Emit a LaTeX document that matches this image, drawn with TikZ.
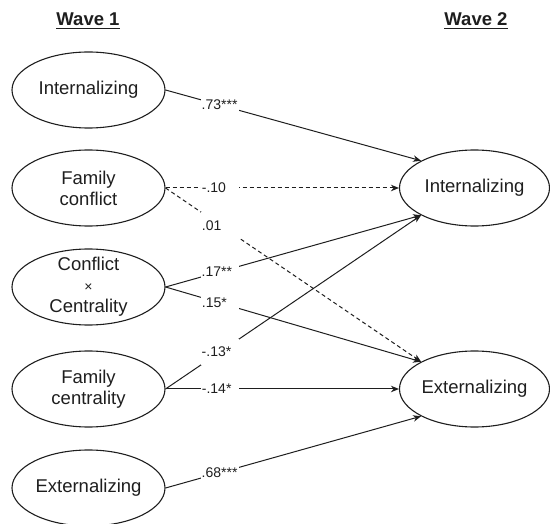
\documentclass[tikz,border=0pt]{standalone}
\usepackage{fontspec}
\setmainfont{Liberation Sans}
\usetikzlibrary{arrows.meta,shapes.geometric}
\definecolor{ink}{HTML}{1E1E1E}
\begin{document}
\begin{tikzpicture}[x=1pt,y=-1pt,
  var/.style={draw=ink,line width=1.1pt,ellipse,minimum width=153pt,minimum height=76pt,inner sep=0pt},
  rvar/.style={var,minimum width=150pt},
  vtext/.style={align=center,text=ink,font=\fontsize{18.5}{21}\selectfont,inner sep=0pt},
  hdr/.style={text=ink,font=\fontsize{18.5}{21}\selectfont\bfseries,inner sep=0pt,anchor=base},
  arr/.style={draw=ink,line width=1pt,-{Stealth[length=8pt,width=6.5pt,inset=2.5pt]}},
  dsh/.style={dash pattern=on 4pt off 3pt},
  lbl/.style={fill=white,text=ink,font=\fontsize{14}{15}\selectfont,text width=37pt,align=left,
              inner xsep=0.5pt,inner ysep=0pt,minimum height=17pt},
  steep/.style={minimum height=26pt}]
\useasboundingbox (0,0) rectangle (550,524);

% headers
\node[hdr] (w1) at (88,25.5) {Wave 1};
\node[hdr] (w2) at (476,25.5) {Wave 2};
\draw[ink,line width=1.8pt] ([yshift=-3pt]w1.base west) -- ([yshift=-3pt]w1.base east);
\draw[ink,line width=1.8pt] ([yshift=-3pt]w2.base west) -- ([yshift=-3pt]w2.base east);

% wave 1
\node[var] (L1) at (88.5,90) {};
\node[vtext] (t1) at (L1) {Internalizing};
\node[var] (L2) at (88.5,188) {};
\node[vtext] (t2) at (L2) {Family\\conflict};
\node[var] (L3) at (88.5,287) {};
\node[vtext] (t3) at (L3) {Conflict\\{\fontsize{14}{21}\selectfont ×}\\Centrality};
\node[var] (L4) at (88.5,389) {};
\node[vtext] (t4) at (L4) {Family\\centrality};
\node[var] (L5) at (88.5,488) {};
\node[vtext] (t5) at (L5) {Externalizing};

% wave 2
\node[rvar] (R1) at (474.5,188) {};
\node[vtext] (u1) at (R1) {Internalizing};
\node[rvar] (R2) at (474.5,389) {};
\node[vtext] (u2) at (R2) {Externalizing};

% paths
\draw[arr] (L1.east) -- node[lbl,pos=0.214] (p1) {.73***} (R1.north west);
\draw[arr,dsh] (L2.east) -- node[lbl,pos=0.235] (p2) {-.10} (R1.west);
\draw[arr,dsh] (L2.east) -- node[lbl,steep,pos=0.215] (p3) {.01} (R2.north west);
\draw[arr] (L3.east) -- node[lbl,pos=0.214] (p4) {.17**} (R1.south west);
\draw[arr] (L3.east) -- node[lbl,pos=0.215] (p5) {.15*} (R2.north west);
\draw[arr] (L4.east) -- node[lbl,steep,pos=0.214] (p6) {-.13*} (R1.south west);
\draw[arr] (L4.east) -- node[lbl,pos=0.235] (p7) {-.14*} (R2.west);
\draw[arr] (L5.east) -- node[lbl,pos=0.214] (p8) {.68***} (R2.south west);
\end{tikzpicture}
\end{document}
